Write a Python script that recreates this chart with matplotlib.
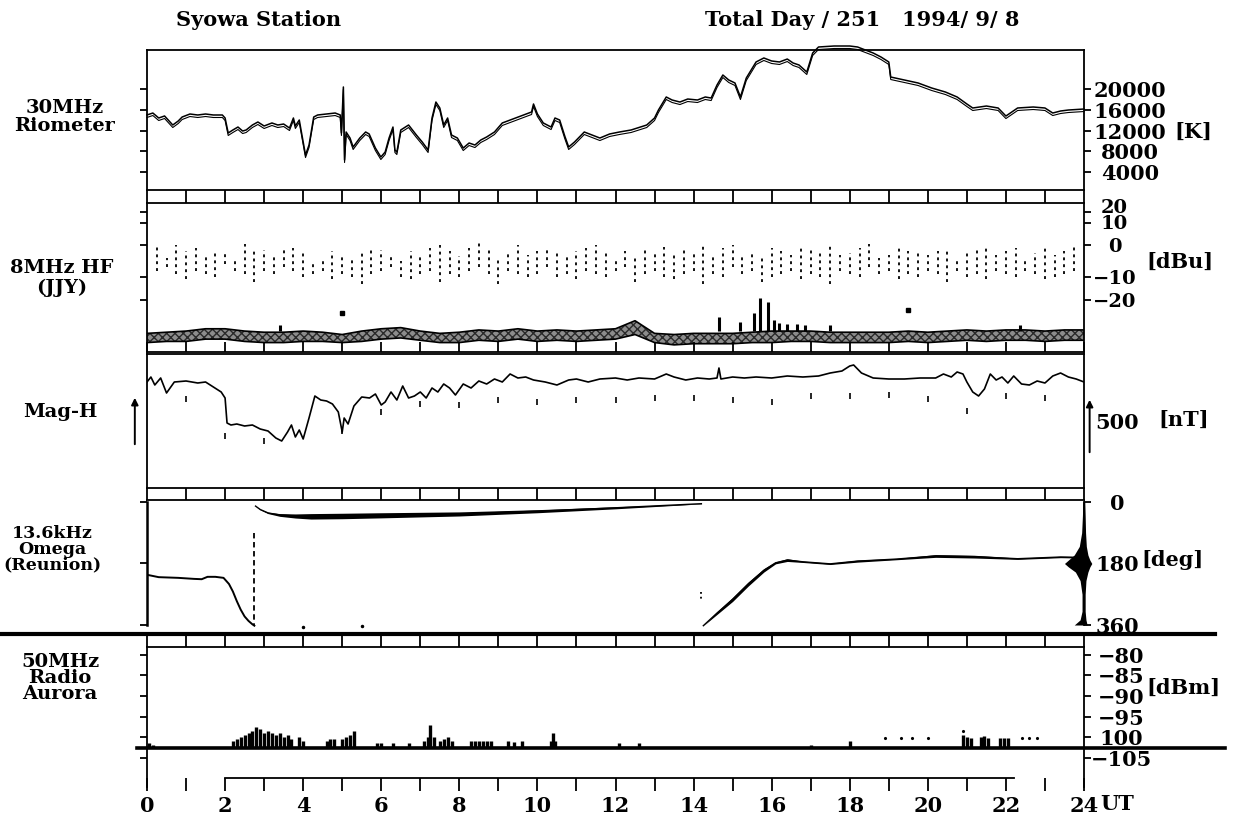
import numpy as np
import matplotlib
matplotlib.use("Agg")
import matplotlib.pyplot as plt
from matplotlib import transforms
from matplotlib.lines import Line2D

plt.rcParams["font.family"] = ["DejaVu Serif"]
plt.rcParams["font.weight"] = "bold"
plt.rcParams["axes.linewidth"] = 1.3

# ---------------------------------------------------------------- data
hours = list(range(0, 25))
hour_labels = [str(h) if h % 2 == 0 else "" for h in hours]

# 30 MHz riometer [K]
rio_t = [0.0, 0.15, 0.3, 0.45, 0.66, 0.8, 0.9, 1.1, 1.3, 1.5, 1.7, 1.93, 2.0, 2.08, 2.2,
         2.33, 2.45, 2.54, 2.7, 2.84, 3.0, 3.2, 3.35, 3.5, 3.65, 3.75, 3.8, 3.9, 4.06, 4.15,
         4.27, 4.37, 4.6, 4.82, 4.95, 4.98, 5.03, 5.06, 5.1, 5.2, 5.28, 5.45, 5.6, 5.69, 5.85,
         5.99, 6.1, 6.2, 6.3, 6.35, 6.4, 6.5, 6.7, 6.9, 7.05, 7.2, 7.3, 7.4, 7.5, 7.6,
         7.7, 7.8, 7.95, 8.1, 8.25, 8.4, 8.55, 8.7, 8.9, 9.1, 9.3, 9.5, 9.7, 9.85, 9.9,
         10.0, 10.15, 10.35, 10.45, 10.57, 10.7, 10.8, 10.95, 11.2, 11.4, 11.6, 11.85, 12.1, 12.4, 12.8,
         13.0, 13.1, 13.3, 13.45, 13.65, 13.85, 14.1, 14.3, 14.45, 14.6, 14.75, 14.9, 15.06, 15.2, 15.35,
         15.6, 15.8, 16.0, 16.2, 16.4, 16.55, 16.7, 16.9, 17.05, 17.2, 17.6, 18.0, 18.2, 18.4, 18.6,
         18.8, 19.0, 19.05, 19.4, 19.75, 20.1, 20.45, 20.75, 21.0, 21.15, 21.5, 21.8, 22.0, 22.3, 22.7,
         23.0, 23.2, 23.4, 23.6, 24.0]
rio_k = [15000, 15370, 14410, 14800, 13060, 13830, 14600, 15180, 14990, 15180, 14990, 14990, 14410, 11520, 12100,
         12670, 11900, 12100, 13060, 13640, 12870, 13450, 13060, 13250, 12480, 14410, 12870, 14020, 7270, 9200,
         14600, 14990, 15180, 15370, 14990, 11520, 20390, 6310, 11710, 10550, 8820, 10550, 11710, 11330, 8620,
         6890, 7850, 10550, 12670, 8240, 7850, 12100, 13060, 11130, 9780, 8240, 14410, 17490, 16340, 13060,
         14410, 11130, 10550, 8620, 9590, 9200, 10170, 10750, 11710, 13450, 14020, 14600, 15180, 15570, 17110,
         15180, 13450, 12670, 14410, 14020, 10940, 8820, 9780, 11710, 11130, 10550, 11330, 11710, 12100, 13060,
         14410, 15950, 18460, 17880, 17490, 18070, 17880, 18460, 18260, 20770, 22700, 21740, 21160, 18460, 22120,
         25210, 25980, 25400, 25210, 25780, 25010, 24630, 23280, 26940, 28100, 28290, 28290, 28100, 27520, 26940,
         26170, 25210, 22310, 21740, 21160, 20190, 19420, 18460, 17110, 16340, 16720, 16340, 14790, 16340, 16530,
         16340, 15370, 15760, 15950, 16140]
rio_ticks = [4000, 8000, 12000, 16000, 20000]

# 8 MHz HF (JJY) [dBu]
hf_ticks = [-20, -10, 0, 10, 20]
hf_tick_labels = ["\u221220", "\u221210", "0", "10", "20"]
hf_hi = [-0.5, -4, 0, -2, -1, -3, -2, -2.5, -4, 0.5, -2, -1.5, -3, -1, -1, -2, -5, -4, -2, -3,
         -4, -2.5, -1, -1.5, -3, -5, -2, -3, -1, 0, -2, -3.5, -1, 1, -1, -4, -2, 0, -3, -2,
         -1, -1.5, -3, -2, -1, 0, -1.5, -4, -2, -3, -1, -2.5, -0.5, -3, -1, -2, 1, -3, -1, 0,
         -3, -2, -4, -1, -2, -3, -1, -0.5, -2, 0, -3, -2.5, -1, 0.5, -4, -3, -1, -2, -1.5, -3,
         -2, -1, -4, -2, -1.5, -1, -3, -2, -1, -4, -2.5, -1, -3, -2, -0.5]
hf_lo = [-8, -7, -9, -11, -8, -9, -10, -6, -8, -9, -12, -8, -9, -7, -8, -10, -9, -8, -11, -9,
         -10, -13, -9, -8, -7, -10, -11, -9, -8, -12, -9, -10, -8, -7, -9, -13, -8, -9, -10, -9,
         -7, -10, -9, -11, -8, -9, -10, -8, -7, -12, -9, -8, -10, -11, -9, -8, -13, -9, -10, -7,
         -9, -8, -12, -10, -9, -8, -11, -9, -10, -13, -8, -9, -10, -7, -9, -8, -11, -9, -10, -8,
         -9, -12, -8, -10, -9, -11, -8, -9, -10, -8, -9, -11, -10, -9, -8]
hf_t = [0.25 * (i + 1) for i in range(len(hf_hi))]
hf_band_t = [0.5 * i for i in range(49)]
hf_band_hi = [-34.5, -34, -33.5, -32.5, -32.5, -33.5, -34, -34, -33.5, -34,
              -35, -33.5, -32.5, -32, -33.5, -34.5, -34, -33, -33.5, -32.5,
              -33.5, -33, -33.5, -33, -32.5, -29, -34.5, -35, -34.5, -34.5,
              -34.5, -34, -33.5, -33.5, -33.5, -34, -34, -34, -34, -33.5,
              -34, -33.5, -33, -33.5, -33, -33, -33.5, -33, -33]
hf_band_lo = [-38.5, -38, -38, -37, -37, -38, -38.5, -38.5, -38, -38,
              -38.5, -38, -37, -36.5, -37.5, -38.5, -38.5, -37.5, -38, -37,
              -38, -37.5, -38, -37.5, -37, -35, -38.5, -39.5, -39, -39,
              -39, -38.5, -38.5, -38, -38, -38.5, -38.5, -38.5, -38.5, -38,
              -38.5, -38, -37.5, -38, -37.5, -37.5, -38, -37.5, -37.5]
hf_spike_t = [3.4, 14.65, 15.2, 15.55, 15.7, 15.9, 16.05, 16.2, 16.4, 16.65, 16.85, 17.5, 22.35]
hf_spike_top = [-31, -27.5, -29.5, -25.5, -19, -21, -28.5, -30, -30.5, -30.5, -31, -31, -31]
hf_dot_t = [5.0, 19.5]
hf_dot_v = [-25.5, -24.5]

# Mag-H [nT, relative]
mag_t = [0, 0.1, 0.2, 0.35, 0.5, 0.7, 1.0, 1.3, 1.5, 1.7, 1.9, 2.0, 2.05, 2.15, 2.3,
         2.5, 2.7, 2.9, 3.1, 3.3, 3.45, 3.6, 3.7, 3.8, 3.9, 4.0, 4.15, 4.3, 4.45, 4.6,
         4.75, 4.9, 5.0, 5.05, 5.15, 5.3, 5.5, 5.7, 5.85, 6.0, 6.1, 6.25, 6.4, 6.55, 6.7,
         6.85, 7.0, 7.15, 7.3, 7.45, 7.6, 7.75, 7.9, 8.1, 8.3, 8.5, 8.7, 8.9, 9.1, 9.3,
         9.5, 9.7, 9.9, 10.2, 10.5, 10.8, 11.0, 11.3, 11.6, 12.0, 12.3, 12.6, 13.0, 13.3, 13.5,
         13.8, 14.1, 14.4, 14.6, 14.65, 14.7, 15.0, 15.3, 15.6, 16.0, 16.4, 16.8, 17.2, 17.5, 17.8,
         18.0, 18.1, 18.3, 18.6, 19.0, 19.4, 19.8, 20.2, 20.4, 20.6, 20.75, 20.9, 21.0, 21.15, 21.3,
         21.45, 21.6, 21.75, 21.9, 22.05, 22.2, 22.4, 22.6, 22.8, 23.0, 23.2, 23.4, 23.6, 23.8, 24.0]
mag_h = [60, 110, 30, 100, -50, 60, 70, 50, 60, 10, -40, -100, -350, -370, -360,
         -380, -370, -410, -430, -500, -530, -440, -370, -490, -420, -510, -300, -80, -120, -130,
         -160, -240, -440, -300, -360, -180, -90, -100, -60, -170, -140, -40, -120, 20, -100,
         -80, -40, -100, 0, -40, 40, 0, -70, 40, 0, 70, 40, 90, 60, 140,
         100, 110, 80, 60, 30, 80, 90, 60, 90, 100, 80, 100, 90, 140, 110,
         80, 100, 90, 100, 200, 90, 110, 100, 110, 100, 120, 110, 120, 150, 170,
         220, 230, 150, 100, 90, 90, 100, 100, 140, 110, 160, 140, 60, -40, -80,
         -10, 140, 80, 110, 50, 120, 40, 30, 70, 50, 120, 150, 110, 90, 60]
mag_mark_t = [1, 2, 3, 5, 6, 7, 8, 9, 10, 11, 12, 13, 14, 15, 16, 17, 18, 19, 20, 21, 22, 23]
mag_mark_v = [-110, -480, -530, -430, -240, -160, -170, -120, -140, -120, -120, -100, -100,
              -120, -140, -80, -80, -70, -110, -230, -80, -100]

# 13.6 kHz Omega (Reunion) phase [deg]
om_t1 = [0, 0.3, 0.8, 1.2, 1.4, 1.55, 1.75, 1.96, 2.1, 2.2, 2.3, 2.4, 2.5, 2.6, 2.7, 2.75]
om_d1 = [213, 220, 222, 225, 226, 219, 219, 222, 240, 262, 290, 315, 335, 348, 358, 362]
om_t2 = [2.78, 2.9, 3.1, 3.4, 3.8, 4.2, 5, 6, 8, 10, 12, 14.2]
om_d2 = [12, 22, 32, 38, 41, 42, 41, 39, 35, 27, 17, 5]
om_w2 = [0, 1, 2, 4, 6, 8, 8, 7.5, 6, 4.5, 3, 0.5]
om_t3 = [14.25, 14.6, 15.0, 15.4, 15.8, 16.1, 16.4, 16.8, 17.5, 18.2, 19.2, 20.2, 21.2, 22.3, 23.4, 23.9]
om_d3 = [362, 325, 285, 240, 200, 178, 170, 175, 181, 173, 167, 158, 160, 166, 161, 162]
om_w3 = [0, 4, 6, 6, 5, 3, 4, 2, 2, 3, 2, 4, 4, 2, 2, 2]
om_end_deg = [0, 40, 90, 130, 155, 170, 180, 190, 205, 230, 270, 320, 345, 360]
om_end_left = [0.03, 0.04, 0.06, 0.12, 0.25, 0.4, 0.5, 0.4, 0.22, 0.1, 0.05, 0.05, 0.1, 0.25]
om_end_right = [0.02, 0.03, 0.04, 0.06, 0.1, 0.15, 0.2, 0.15, 0.1, 0.05, 0.03, 0.03, 0.05, 0.08]
om_ticks = [0, 180, 360]

# 50 MHz radio aurora [dBm]
aurora_floor = -102.6
aurora_t = [0.05, 0.15, 2.2, 2.3, 2.4, 2.5, 2.6, 2.7, 2.8, 2.9, 3.0, 3.1, 3.2, 3.3, 3.4, 3.5,
            3.6, 3.7, 3.9, 4.0, 4.6, 4.7, 4.8, 5.0, 5.1, 5.2, 5.3, 5.9, 6.0, 6.3, 6.7, 7.1,
            7.2, 7.25, 7.35, 7.5, 7.6, 7.7, 7.8, 8.3, 8.4, 8.5, 8.6, 8.7, 8.8, 9.25, 9.4, 9.6,
            10.35, 10.4, 10.45, 12.1, 12.6, 17.0, 18.0, 20.9, 21.0, 21.1, 21.35, 21.45, 21.55,
            21.85, 21.95, 22.05]
aurora_top = [-101.5, -101.8, -101, -100.5, -100, -99.5, -99, -98.5, -97.5, -98, -99, -98.5,
              -99, -99.5, -99, -100, -99.5, -100.5, -100, -101, -101, -100.5, -100.5, -100.5,
              -100, -99.5, -98.5, -101.5, -101.5, -101.5, -101.5, -101, -100, -97, -100, -101,
              -100.5, -100, -100.8, -101, -100.8, -101, -101, -100.8, -101, -100.8, -101.2, -101,
              -101, -99, -101, -101.3, -101.3, -101.8, -101, -99.5, -100, -100.2, -100, -99.8,
              -100.2, -100.3, -100.1, -100.3]
aurora_dot_t = [18.9, 19.3, 19.6, 20.0, 20.9, 22.4, 22.6, 22.8]
aurora_dot_v = [-100.3, -100.3, -100.3, -100.3, -98.5, -100.3, -100.3, -100.3]
aurora_ticks = [-105, -100, -95, -90, -85, -80]
aurora_tick_labels = ["\u2212105", "100", "\u221295", "\u221290", "\u221285", "\u221280"]

# ---------------------------------------------------------------- layout
W, H = 1243, 825
fig = plt.figure(figsize=(W / 100, H / 100), dpi=100)
XL, XR = 147, 1084


def rect(top, bottom):
    return [XL / W, 1 - bottom / H, (XR - XL) / W, (bottom - top) / H]


def base(ax):
    ax.set_xlim(0, 24)
    ax.set_xticks(hours)
    ax.tick_params(axis="x", labelbottom=False, labeltop=False, bottom=False, top=False,
                   width=1.3, direction="out")
    for s in ax.spines.values():
        s.set_linewidth(1.3)


def right_labels(ax, ticks, labels, pad, size=15):
    ax.set_yticks(ticks)
    ax.set_yticklabels(labels)
    ax.tick_params(axis="y", left=True, right=True, labelleft=False, labelright=True,
                   direction="out", length=5, width=1.3, pad=pad, labelsize=size)
    for t in ax.yaxis.get_major_ticks():
        t.label2.set_horizontalalignment("center")


def shift_label(ax, index, dy_px):
    t = ax.yaxis.get_major_ticks()[index]
    t.label2.set_transform(t.label2.get_transform()
                           + transforms.ScaledTranslation(0, dy_px / 100, fig.dpi_scale_trans))


def ftext(x, y, s, size=14, **kw):
    fig.text(x / W, 1 - y / H, s, fontsize=size, fontweight="bold", ha=kw.pop("ha", "center"),
             va=kw.pop("va", "center"), **kw)


# ---- panel 1: riometer
ax1 = fig.add_axes(rect(50, 190))
base(ax1)
ax1.set_ylim(530, 27520)
ax1.tick_params(axis="x", bottom=True, length=9)
right_labels(ax1, rio_ticks, [str(v) for v in rio_ticks], 28)
ax1.plot(rio_t, rio_k, color="black", lw=1.1, clip_on=False)
off = transforms.offset_copy(ax1.transData, fig=fig, x=0, y=-2.5, units="dots")
ax1.plot(rio_t, rio_k, color="black", lw=0.8, transform=off, clip_on=False)

# ---- panel 2: HF JJY
hf_axis_db = [-50, -20, -10, 0, 10, 20, 30]
hf_axis_px = [369, 300, 277, 245, 223, 212, 201]


def hf_fwd(v):
    return -np.interp(np.asarray(v, dtype=float), hf_axis_db, hf_axis_px)


def hf_inv(y):
    return np.interp(-np.asarray(y, dtype=float), hf_axis_px[::-1], hf_axis_db[::-1])


ax2 = fig.add_axes(rect(203, 352))
base(ax2)
ax2.set_yscale("function", functions=(hf_fwd, hf_inv))
ax2.set_ylim(-42.6, 28.2)
ax2.tick_params(axis="x", bottom=True, direction="in", length=7)
right_labels(ax2, hf_ticks, hf_tick_labels, 17, size=14)
shift_label(ax2, 4, 6)
shift_label(ax2, 3, 1)
ax2.fill_between(hf_band_t, hf_band_lo, hf_band_hi, facecolor="#8c8c8c", edgecolor="#2a2a2a",
                 hatch="xxxx", linewidth=0)
ax2.plot(hf_band_t, hf_band_hi, color="black", lw=1.2)
ax2.plot(hf_band_t, hf_band_lo, color="black", lw=1.2)
ax2.vlines(hf_spike_t, -33.5, hf_spike_top, color="black", lw=2.2)
ax2.vlines(hf_t, hf_lo, hf_hi, color="black", lw=1.3, linestyles=(0, (1.6, 2.2)))
ax2.plot(hf_dot_t, hf_dot_v, "s", color="black", ms=2.5)

# ---- panel 3: Mag-H
ax3 = fig.add_axes(rect(354, 488))
base(ax3)
ax3.set_ylim(-1000, 340)
ax3.set_yticks([])
ax3.tick_params(axis="x", bottom=True, length=9)
ax3.plot(mag_t, mag_h, color="black", lw=1.2)
ax3.plot(mag_mark_t, mag_mark_v, "|", color="black", ms=4, mew=1.2)
tr3 = transforms.blended_transform_factory(ax3.transAxes, ax3.transData)
ax3.annotate("", xy=(1.006, -90), xytext=(1.006, -670), xycoords=tr3, textcoords=tr3,
             arrowprops=dict(arrowstyle="-|>", lw=1.4, color="black", mutation_scale=10))
ax3.annotate("", xy=(-0.013, -70), xytext=(-0.013, -590), xycoords=tr3, textcoords=tr3,
             arrowprops=dict(arrowstyle="-|>", lw=1.4, color="black", mutation_scale=10))

# ---- panel 4: Omega
ax4 = fig.add_axes(rect(500, 630))
base(ax4)
ax4.set_ylim(374.6, -5.8)
ax4.spines["bottom"].set_visible(False)
ax4.spines["left"].set_bounds(0, 360)
ax4.spines["right"].set_bounds(0, 360)
ax4.spines["left"].set_linewidth(1.8)
right_labels(ax4, om_ticks, [str(v) for v in om_ticks], 19)
ax4.plot(om_t1, om_d1, color="black", lw=1.4)
ax4.fill_between(om_t2, [d - w for d, w in zip(om_d2, om_w2)], [d + w for d, w in zip(om_d2, om_w2)],
                 color="black", lw=0)
ax4.plot(om_t2, om_d2, color="black", lw=1.0)
ax4.fill_between(om_t3, [d - w for d, w in zip(om_d3, om_w3)], [d + w for d, w in zip(om_d3, om_w3)],
                 color="black", lw=0)
ax4.plot(om_t3, om_d3, color="black", lw=1.0)
ax4.fill_betweenx(om_end_deg, [24 - w for w in om_end_left], [24 + w for w in om_end_right],
                  color="black", lw=0, clip_on=False)
ax4.vlines([2.75], 90, 360, color="black", lw=1.3, linestyles=(0, (3, 2)))
ax4.plot([14.2, 14.2], [262, 290], ":", color="black", lw=1.3)
ax4.plot([4.0, 5.5], [365, 363], ".", color="black", ms=3)

# ---- panel 5: radio aurora
ax5 = fig.add_axes(rect(647, 778))
base(ax5)
ax5.set_ylim(-109.9, -78.1)
ax5.spines["bottom"].set_bounds(2, 22.2)
ax5.spines["left"].set_bounds(-112, -78.1)
ax5.spines["right"].set_bounds(-112, -78.1)
ax5.tick_params(axis="x", top=True, bottom=True, labelbottom=True, length=9, labelsize=15, pad=4)
ax5.set_xticklabels(hour_labels)
right_labels(ax5, aurora_ticks, aurora_tick_labels, 22)
tr5 = transforms.blended_transform_factory(ax5.transAxes, ax5.transData)
ax5.plot([-0.011, 1.15], [aurora_floor, aurora_floor], color="black", lw=2.6, transform=tr5,
         clip_on=False)
ax5.vlines(aurora_t, aurora_floor, aurora_top, color="black", lw=2.4)
ax5.plot(aurora_dot_t, aurora_dot_v, ".", color="black", ms=2.5)

# heavy separator line across the sheet
fig.add_artist(Line2D([0, 1215 / W], [1 - 634 / H, 1 - 634 / H], color="black", lw=3))

# ---------------------------------------------------------------- texts
ftext(259, 20, "Syowa Station", 15)
ftext(862, 20, "Total Day / 251   1994/ 9/ 8", 15)
ftext(65, 117, "30MHz\nRiometer", 14, linespacing=1.05)
ftext(62, 278, "8MHz HF\n(JJY)", 14, linespacing=1.15)
ftext(60, 412, "Mag-H", 14)
ftext(52, 549, "13.6kHz\nOmega\n(Reunion)", 12.5, linespacing=0.9)
ftext(60, 678, "50MHz\nRadio\nAurora", 14, linespacing=0.85)
ftext(1193, 132, "[K]", 15)
ftext(1180, 262, "[dBu]", 15)
ftext(1117, 423, "500", 15)
ftext(1184, 420, "[nT]", 15)
ftext(1172, 560, "[deg]", 15)
ftext(1183, 688, "[dBm]", 15)
ftext(1117, 804, "UT", 15)

fig.savefig("out.png", dpi=100)
